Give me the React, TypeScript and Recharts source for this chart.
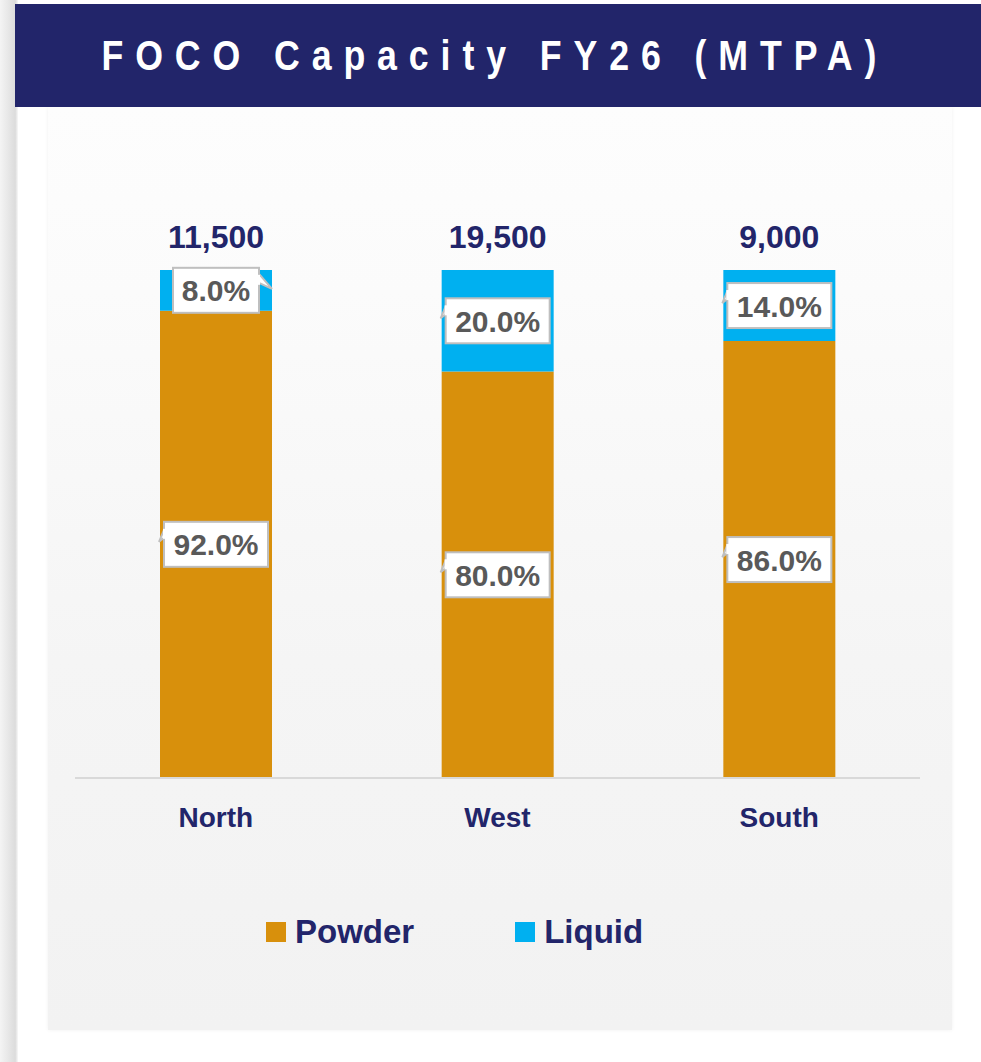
import React from 'react';
import { BarChart, Bar, XAxis, YAxis, LabelList, Legend } from 'recharts';

const regions = ['North', 'West', 'South'];
const powderShare = [92.0, 80.0, 86.0];
const liquidShare = [8.0, 20.0, 14.0];
const totals = ['11,500', '19,500', '9,000'];

const data = regions.map((region, i) => ({
  region,
  powder: powderShare[i],
  liquid: liquidShare[i],
  total: totals[i],
}));

const NAVY = '#22256a';
const POWDER = '#d8900c';
const LIQUID = '#00b0f0';
const FONT = "'Liberation Sans', Arial, sans-serif";

// callout box with a small pointer, like the excel data callouts
const makeCallout = (pointerRightFor: number | null) => (props: any) => {
  const { x, y, width, height, value, index } = props;
  const cx = x + width / 2;
  const cy = y + height / 2;
  const text = `${Number(value).toFixed(1)}%`;
  const w = text.length > 4 ? 104 : 86;
  const h = 45;
  const left = cx - w / 2;
  const top = cy - h / 2;
  const pointRight = pointerRightFor === index;
  const tri = pointRight
    ? `M${left + w},${top + 6} L${left + w + 13},${top + 21} L${left + w},${top + 15} Z`
    : `M${left},${top + 8} L${left - 5},${top + 20} L${left},${top + 16} Z`;
  return (
    <g>
      <path d={tri} fill="#fff" stroke="#bfbfbf" strokeWidth={2} />
      <rect x={left} y={top} width={w} height={h} fill="#fff" stroke="#bfbfbf" strokeWidth={2} />
      <rect x={pointRight ? left + w - 2 : left - 1} y={top + 7} width={3} height={10} fill="#fff" />
      <text x={cx} y={cy + 11} textAnchor="middle" fontFamily={FONT} fontWeight="bold" fontSize={30} fill="#595959">
        {text}
      </text>
    </g>
  );
};

const TotalLabel = (props: any) => {
  const { x, y, width, index } = props;
  return (
    <text x={x + width / 2} y={y - 22} textAnchor="middle" fontFamily={FONT} fontWeight="bold" fontSize={32} fill={NAVY}>
      {totals[index]}
    </text>
  );
};

const RegionTick = (props: any) => {
  const { x, y, payload } = props;
  return (
    <text x={x} y={y + 41} textAnchor="middle" fontFamily={FONT} fontWeight="bold" fontSize={28} fill={NAVY}>
      {payload.value}
    </text>
  );
};

const LegendContent = () => (
  <div style={{ display: 'flex', alignItems: 'center', fontFamily: FONT, fontWeight: 'bold', fontSize: 33, color: NAVY }}>
    <span style={{ width: 20, height: 20, background: POWDER, display: 'inline-block', marginRight: 9 }} />
    <span>Powder</span>
    <span style={{ width: 20, height: 20, background: LIQUID, display: 'inline-block', marginLeft: 101, marginRight: 9 }} />
    <span>Liquid</span>
  </div>
);

export default function App() {
  return (
    <div style={{ position: 'fixed', left: 0, top: 0, width: 981, height: 1062, background: '#fff', overflow: 'hidden' }}>
      {/* left shadow strip */}
      <div style={{ position: 'absolute', left: 0, top: 0, width: 18, height: 1062, background: 'linear-gradient(to right, #f4f4f4, #dcdcdc 85%, #f8f8f8)' }} />
      {/* chart panel */}
      <div
        style={{
          position: 'absolute',
          left: 48,
          top: 107,
          width: 904,
          height: 923,
          background: 'linear-gradient(to bottom, #fdfdfd 0%, #fbfbfb 20%, #f5f5f5 60%, #f2f2f2 100%)',
          boxShadow: '0 0 4px rgba(0,0,0,0.06)',
        }}
      />
      {/* title bar */}
      <div
        style={{
          position: 'absolute',
          left: 15,
          top: 4,
          width: 966,
          height: 103,
          background: NAVY,
          display: 'flex',
          alignItems: 'center',
          justifyContent: 'center',
        }}
      >
        <span
          style={{
            color: '#fff',
            fontFamily: FONT,
            fontWeight: 'bold',
            fontSize: 42,
            letterSpacing: 14,
            whiteSpace: 'nowrap',
            transform: 'translateX(-10px) scaleX(0.85)',
            marginRight: -14,
          }}
        >
          FOCO Capacity FY26 (MTPA)
        </span>
      </div>
      <div style={{ position: 'absolute', left: 0, top: 0 }}>
        <BarChart width={981} height={1062} data={data} margin={{ top: 270, right: 61, bottom: 186, left: 75 }} barSize={112}>
          <YAxis hide domain={[0, 100]} />
          <XAxis
            dataKey="region"
            height={60}
            axisLine={{ stroke: '#d9d9d9', strokeWidth: 2 }}
            tickLine={false}
            tick={<RegionTick />}
            interval={0}
          />
          <Legend
            verticalAlign="bottom"
            content={<LegendContent />}
            wrapperStyle={{ left: 266, top: 913, width: 440, bottom: 'auto' }}
          />
          <Bar dataKey="powder" stackId="a" fill={POWDER} isAnimationActive={false}>
            <LabelList dataKey="powder" content={makeCallout(null)} />
          </Bar>
          <Bar dataKey="liquid" stackId="a" fill={LIQUID} isAnimationActive={false}>
            <LabelList dataKey="liquid" content={makeCallout(0)} />
            <LabelList dataKey="total" content={<TotalLabel />} />
          </Bar>
        </BarChart>
      </div>
    </div>
  );
}
